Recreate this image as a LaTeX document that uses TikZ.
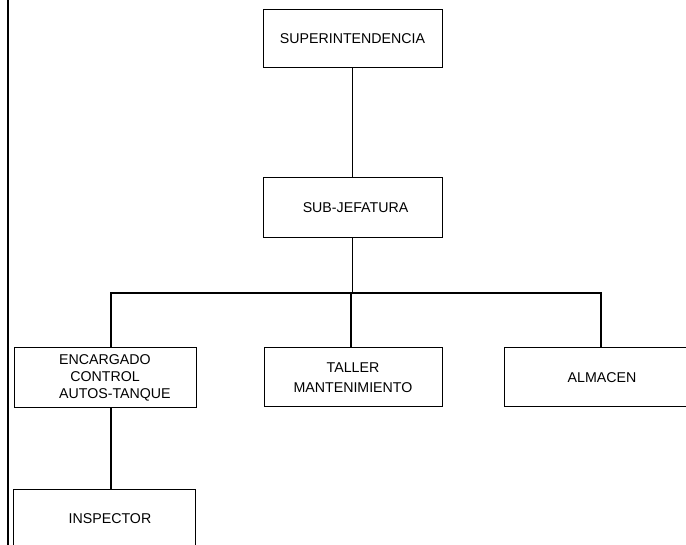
\documentclass[tikz,border=0pt]{standalone}
\usepackage{fontspec}
\setmainfont{Liberation Sans}
\begin{document}
\begin{tikzpicture}[x=1pt,y=-1pt,
  box/.style={draw=black,line width=1pt,rectangle,inner sep=0pt,align=center,
    font=\fontsize{14.2}{17}\selectfont},
  conn/.style={draw=black,line width=1.2pt}]
\useasboundingbox (0,0) rectangle (686,545);
\clip (0,0) rectangle (686,545);
\fill[white] (0,0) rectangle (686,545);
\draw[line width=1.3pt] (8,0) -- (8,545);
\node[box,minimum width=179pt,minimum height=58pt] (sup) at (352.5,39) {SUPERINTENDENCIA};
\node[box,minimum width=179pt,minimum height=60pt] (sub) at (352.5,208) {\hspace{6pt}SUB-JEFATURA};
\node[box,minimum width=182pt,minimum height=60pt] (enc) at (105,378) {ENCARGADO\\CONTROL\\\hspace{1.4em}AUTOS-TANQUE};
\node[box,minimum width=178pt,minimum height=59pt] (tal) at (353,377.5) {TALLER\\[3pt]MANTENIMIENTO};
\node[box,minimum width=196pt,minimum height=59pt] (alm) at (602,377.5) {ALMACEN};
\node[box,minimum width=182pt,minimum height=60pt] (ins) at (104,519) {\hspace{12pt}INSPECTOR};
\coordinate (bus) at (352.5,293);
\draw[conn] (sup.south) -- (sub.north);
\draw[conn] (sub.south) -- (bus);
\draw[conn] (bus) -| ([xshift=6pt]enc.north);
\draw[conn] (bus) -| ([xshift=-1pt]alm.north);
\draw[conn] ([xshift=-2pt]tal.north) -- ([xshift=-2pt]tal.north |- bus);
\draw[conn] ([xshift=6pt]enc.south) -- ([xshift=6pt]enc.south |- ins.north);
\end{tikzpicture}
\end{document}
